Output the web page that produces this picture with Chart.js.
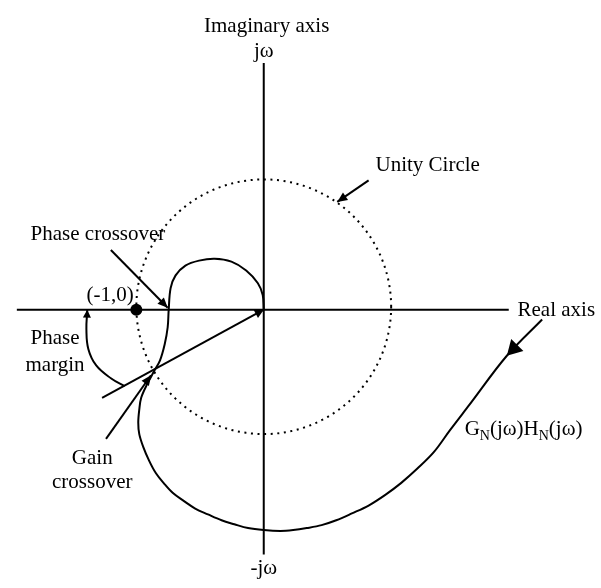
<!DOCTYPE html>
<html><head><meta charset="utf-8">
<script src="https://cdn.jsdelivr.net/npm/chart.js@4.4.1/dist/chart.umd.min.js"></script>
<style>html,body{margin:0;padding:0;background:#fff;overflow:hidden}canvas{display:block}</style>
</head><body>
<canvas id="c" width="601" height="588"></canvas>
<script>
// Nyquist locus G_N(jω)H_N(jω) (real part, imaginary part)
const locusRe = [2.185, 1.908, 1.615, 1.462, 1.338, 1.208, 1.077, 0.954, 0.823, 0.692, 0.569, 0.454, 0.338, 0.231, 0.131, 0.000, -0.123, -0.231, -0.331, -0.438, -0.538, -0.631, -0.715, -0.785, -0.846, -0.900, -0.946, -0.977, -0.985, -0.977, -0.962, -0.915, -0.862, -0.815, -0.777, -0.754, -0.746, -0.731, -0.692, -0.615, -0.508, -0.385, -0.254, -0.138, -0.046, -0.008, 0.000];
const locusIm = [-0.077, -0.362, -0.746, -0.946, -1.115, -1.246, -1.362, -1.454, -1.538, -1.600, -1.654, -1.692, -1.715, -1.731, -1.738, -1.731, -1.715, -1.685, -1.654, -1.608, -1.562, -1.500, -1.438, -1.362, -1.285, -1.185, -1.077, -0.977, -0.885, -0.785, -0.692, -0.585, -0.485, -0.400, -0.269, -0.138, 0.000, 0.169, 0.269, 0.346, 0.385, 0.400, 0.377, 0.308, 0.208, 0.115, 0.000];

// Phase-margin arc (real, imaginary)
const arcRe = [-1.092, -1.200, -1.315, -1.377, -1.392, -1.385];
const arcIm = [-0.600, -0.538, -0.438, -0.308, -0.154, 0.000];

// Axes extents
const realAxis = [-1.938, 1.923];
const imagAxis = [-1.923, 1.938];

// Critical point
const criticalPoint = [-1, 0];

// Unity circle: centre (as drawn) and radius
const circleCentre = [0, 0.023];
const circleRadius = 1;

// Straight lines / arrows: [tailRe, tailIm, tipRe, tipIm]
const phaseMarginLine = [-1.269, -0.692, 0, 0];
const gainArrow = [-1.238, -1.015, -0.885, -0.515];
const phaseArrow = [-1.200, 0.469, -0.754, 0.015];
const unityArrow = [0.823, 1.015, 0.577, 0.846];

// Text annotations: [text, re, im, align]
const labels = [
  ['Imaginary axis', 0.023, 2.177, 'center'],
  ['jω', 0.0, 1.985, 'center'],
  ['-jω', 0.0, -2.077, 'center'],
  ['Unity Circle', 0.877, 1.092, 'left'],
  ['Real axis', 1.992, -0.046, 'left'],
  ['Phase crossover', -1.830, 0.546, 'left'],
  ['(-1,0)', -1.392, 0.069, 'left'],
  ['Phase', -1.638, -0.269, 'center'],
  ['margin', -1.638, -0.485, 'center'],
  ['Gain', -1.346, -1.208, 'center'],
  ['crossover', -1.346, -1.400, 'center']
];
const locusLabelPos = [1.577, -0.985];

// Unity circle |G H| = 1
const circlePts = [];
for (let i = 0; i <= 360; i++) {
  const t = i * Math.PI / 180;
  circlePts.push({x: circleCentre[0] + circleRadius * Math.cos(t), y: circleCentre[1] + circleRadius * Math.sin(t)});
}

const zip = (a, b) => a.map((v, i) => ({x: v, y: b[i]}));
const seg = s => [{x: s[0], y: s[1]}, {x: s[2], y: s[3]}];

const lineDs = (data, extra) => Object.assign({
  data, showLine: true, borderColor: '#000', borderWidth: 2, pointRadius: 0, fill: false, tension: 0
}, extra || {});

const FONT = '"Liberation Serif", "Times New Roman", serif';

const overlay = {
  id: 'overlay',
  afterDatasetsDraw(chart) {
    const ctx = chart.ctx, xs = chart.scales.x, ys = chart.scales.y;
    const P = (re, im) => [xs.getPixelForValue(re), ys.getPixelForValue(im)];
    function head(tail, tip, len, hw) {
      const [x0, y0] = P(tail[0], tail[1]);
      const [x1, y1] = P(tip[0], tip[1]);
      const d = Math.hypot(x1 - x0, y1 - y0), ux = (x1 - x0) / d, uy = (y1 - y0) / d;
      const bx = x1 - ux * len, by = y1 - uy * len;
      ctx.beginPath();
      ctx.moveTo(x1, y1);
      ctx.lineTo(bx - uy * hw, by + ux * hw);
      ctx.lineTo(bx + uy * hw, by - ux * hw);
      ctx.closePath();
      ctx.fillStyle = '#000';
      ctx.fill();
    }
    ctx.save();
    head([locusRe[0], locusIm[0]], [locusRe[1], locusIm[1]], 15, 8.5);
    head([phaseMarginLine[0], phaseMarginLine[1]], [phaseMarginLine[2], phaseMarginLine[3]], 9, 4.5);
    head([gainArrow[0], gainArrow[1]], [gainArrow[2], gainArrow[3]], 10, 4.5);
    head([phaseArrow[0], phaseArrow[1]], [phaseArrow[2], phaseArrow[3]], 10, 4.5);
    head([unityArrow[0], unityArrow[1]], [unityArrow[2], unityArrow[3]], 10, 4.5);
    head([arcRe[4], arcIm[4]], [arcRe[5], arcIm[5]], 8, 4);

    ctx.fillStyle = '#000';
    ctx.textBaseline = 'alphabetic';
    ctx.font = '21px ' + FONT;
    labels.forEach(([t, re, im, al]) => {
      const [x, y] = P(re, im);
      ctx.textAlign = al;
      ctx.fillText(t, x, y);
    });
    // G_N(jω)H_N(jω) with subscripts
    let [x, y] = P(locusLabelPos[0], locusLabelPos[1]);
    ctx.textAlign = 'left';
    const parts = [['G', 0], ['N', 1], ['(jω)H', 0], ['N', 1], ['(jω)', 0]];
    parts.forEach(([t, sub]) => {
      ctx.font = (sub ? '14px ' : '21px ') + FONT;
      ctx.fillText(t, x, y + (sub ? 5 : 0));
      x += ctx.measureText(t).width;
    });
    ctx.restore();
  }
};

new Chart(document.getElementById('c'), {
  type: 'scatter',
  data: {
    datasets: [
      lineDs(circlePts, {borderDash: [2, 4.6]}),
      lineDs(seg([realAxis[0], 0, realAxis[1], 0])),
      lineDs(seg([0, imagAxis[0], 0, imagAxis[1]])),
      lineDs(zip(locusRe, locusIm), {tension: 0.35}),
      lineDs(zip(arcRe, arcIm), {tension: 0.4}),
      lineDs(seg(phaseMarginLine)),
      lineDs(seg(gainArrow)),
      lineDs(seg(phaseArrow)),
      lineDs(seg(unityArrow)),
      {data: [{x: criticalPoint[0], y: criticalPoint[1]}], pointRadius: 6, backgroundColor: '#000', borderColor: '#000', borderWidth: 0}
    ]
  },
  options: {
    responsive: false,
    animation: false,
    devicePixelRatio: 1,
    layout: {padding: 0},
    plugins: {legend: {display: false}, tooltip: {enabled: false}},
    scales: {
      x: {type: 'linear', display: false, min: -263 / 130, max: 338 / 130},
      y: {type: 'linear', display: false, min: -278 / 130, max: 310 / 130}
    }
  },
  plugins: [overlay]
});
</script>
</body></html>
